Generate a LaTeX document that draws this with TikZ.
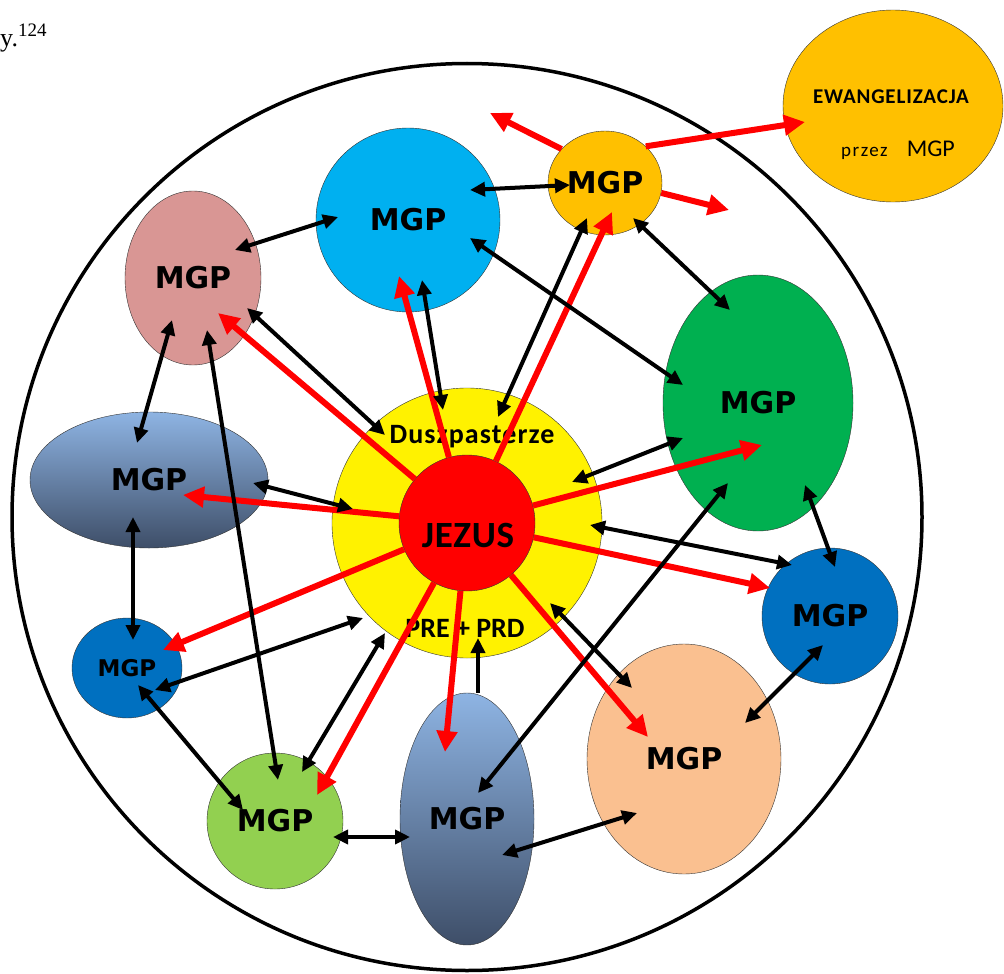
\documentclass[tikz,border=0pt]{standalone}
\usepackage{fontspec}
\setmainfont{Carlito}
\newfontfamily\mgpfont{DejaVu Sans}
\newfontfamily\pagefont{Liberation Serif}
\usetikzlibrary{shapes.geometric,arrows.meta}
\definecolor{mgporange}{HTML}{FFC000}
\definecolor{mgpsky}{HTML}{00B0F0}
\definecolor{mgppink}{HTML}{D99694}
\definecolor{mgpnavy}{HTML}{0070C0}
\definecolor{mgplime}{HTML}{92D050}
\definecolor{mgppeach}{HTML}{FAC090}
\definecolor{mgpgreen}{HTML}{00B050}
\definecolor{mgptop}{HTML}{8EB4E3}
\definecolor{mgpbottom}{HTML}{3E4E68}
\begin{document}
\begin{tikzpicture}[x=1pt,y=-1pt,
  mgp/.style={ellipse, draw=black!80, inner sep=0pt, font=\mgpfont\bfseries\fontsize{30}{30}\selectfont},
  shaded mgp/.style={mgp, top color=mgptop, bottom color=mgpbottom},
  link/.style={line width=4pt, {Triangle[length=15pt,width=14pt]}-{Triangle[length=15pt,width=14pt]}},
  uplink/.style={line width=4pt, -{Triangle[length=15pt,width=14pt]}},
  ray/.style={red, line width=6pt, -{Triangle[length=21pt,width=20pt]}}]
\useasboundingbox (0,0) rectangle (1004,974);
\node[font=\pagefont\fontsize{26}{30}\selectfont, anchor=base west, inner sep=0pt] (page) at (0,47) {y.\raisebox{10pt}{\fontsize{19}{19}\selectfont 124}};
\node[ellipse, draw, line width=3.5pt, minimum width=910pt, minimum height=907pt, inner sep=0pt] (world) at (467,517) {};
\node[ellipse, draw=black!80, fill=mgporange, minimum width=220pt, minimum height=192pt, inner sep=0pt] (ewang) at (893,106) {};
\node[font=\bfseries\fontsize{21}{21}\selectfont\addfontfeature{LetterSpace=4}] (ewtitle) at (891,97) {EWANGELIZACJA};
\node (ewsub) at (898,150) {\fontsize{19}{19}\selectfont\addfontfeature{LetterSpace=8}przez\quad\fontsize{24}{24}\selectfont\addfontfeature{LetterSpace=0}MGP};
\node[mgp, fill=mgporange, minimum width=114pt, minimum height=104pt] (orange) at (605,183) {MGP};
\node[mgp, fill=mgpsky, minimum width=184pt, minimum height=184pt] (blue) at (408,220) {MGP};
\node[mgp, fill=mgppink, minimum width=136pt, minimum height=174pt] (pink) at (193,278) {MGP};
\node[shaded mgp, minimum width=238pt, minimum height=136pt] (gleft) at (149,480) {MGP};
\node[mgp, fill=mgpnavy, minimum width=110pt, minimum height=100pt, font=\mgpfont\bfseries\fontsize{23}{23}\selectfont] (dbleft) at (127,668) {MGP};
\node[mgp, fill=mgplime, minimum width=136pt, minimum height=136pt] (lgreen) at (275,821) {MGP};
\node[shaded mgp, minimum width=134pt, minimum height=252pt] (gbot) at (467,819) {MGP};
\node[mgp, fill=mgppeach, minimum width=194pt, minimum height=230pt] (peach) at (684,759) {MGP};
\node[mgp, fill=mgpnavy, minimum width=136pt, minimum height=136pt] (dbright) at (830,616) {MGP};
\node[mgp, fill=mgpgreen, minimum width=190pt, minimum height=256pt] (green) at (758,403) {MGP};
\node[circle, draw=black!80, fill=yellow, minimum size=270pt, inner sep=0pt] (yellow) at (467,523) {};
\node[circle, draw=black!80, fill=red, minimum size=136pt, inner sep=0pt] (jezus) at (467,523) {};
\node[font=\bfseries\fontsize{37}{37}\selectfont\addfontfeature{LetterSpace=2}] (jezustext) at (468,535) {JEZUS};
\node[font=\bfseries\fontsize{28}{28}\selectfont\addfontfeature{LetterSpace=4}] (duszp) at (472,437) {Duszpasterze};
\node[font=\bfseries\fontsize{28}{28}\selectfont] (prd) at (465,628) {PRE + PRD};
\coordinate (spread1) at (490,113);
\coordinate (spread2) at (729,210);
\draw[ray] (jezus) -- ([shift={(25,35)}]pink.center);
\draw[ray] (jezus) -- ([shift={(-9,56)}]blue.center);
\draw[ray] (jezus) -- ([shift={(7,29)}]orange.center);
\draw[ray] (jezus) -- ([shift={(4,42)}]green.center);
\draw[ray] (jezus) -- ([shift={(-60,-28)}]dbright.center);
\draw[ray] (jezus) -- ([shift={(-36,-22)}]peach.center);
\draw[ray] (jezus) -- ([shift={(-22,-67)}]gbot.center);
\draw[ray] (jezus) -- ([shift={(42,-26)}]lgreen.center);
\draw[ray] (jezus) -- ([shift={(36,-18)}]dbleft.center);
\draw[ray] (jezus) -- ([shift={(34,15)}]gleft.center);
\draw[ray] (orange.42) -- ([shift={(-88,16)}]ewang.center);
\draw[ray] (orange.142) -- (spread1);
\draw[ray] (orange.-10) -- (spread2);
\draw[link] ([shift={(42,-28)}]pink.center) -- ([shift={(-70,-3)}]blue.center);
\draw[link] ([shift={(62,-30)}]blue.center) -- ([shift={(-35,2)}]orange.center);
\draw[link] ([shift={(14,60)}]blue.center) -- ([shift={(-24,-113)}]yellow.center);
\draw[link] ([shift={(-18,35)}]orange.center) -- ([shift={(31,-106)}]yellow.center);
\draw[link] ([shift={(62,18)}]blue.center) -- ([shift={(-75,-18)}]green.center);
\draw[link] ([shift={(28,35)}]orange.center) -- ([shift={(-28,-93)}]green.center);
\draw[link] ([shift={(54,30)}]pink.center) -- ([shift={(-82,-88)}]yellow.center);
\draw[link] ([shift={(-21,42)}]pink.center) -- ([shift={(-12,-37)}]gleft.center);
\draw[link] ([shift={(14,52)}]pink.center) -- ([shift={(3,-41)}]lgreen.center);
\draw[link] ([shift={(104,3)}]gleft.center) -- ([shift={(-114,-14)}]yellow.center);
\draw[link] ([shift={(-16,37)}]gleft.center) -- ([shift={(6,-28)}]dbleft.center);
\draw[link] ([shift={(28,22)}]dbleft.center) -- ([shift={(-104,95)}]yellow.center);
\draw[link] ([shift={(11,17)}]dbleft.center) -- ([shift={(-32,-11)}]lgreen.center);
\draw[link] ([shift={(27,-49)}]lgreen.center) -- ([shift={(-82,110)}]yellow.center);
\draw[link] ([shift={(58,16)}]lgreen.center) -- ([shift={(-57,18)}]gbot.center);
\draw[uplink] ([shift={(11,-126)}]gbot.center) -- ([shift={(11,115)}]yellow.center);
\draw[link] ([shift={(11,-26)}]gbot.center) -- ([shift={(-30,80)}]green.center);
\draw[link] ([shift={(83,80)}]yellow.center) -- ([shift={(-52,-71)}]peach.center);
\draw[link] ([shift={(105,-41)}]yellow.center) -- ([shift={(-75,35)}]green.center);
\draw[link] ([shift={(123,2)}]yellow.center) -- ([shift={(-38,-51)}]dbright.center);
\draw[link] ([shift={(47,82)}]green.center) -- ([shift={(5,-49)}]dbright.center);
\draw[link] ([shift={(-7,29)}]dbright.center) -- ([shift={(61,-36)}]peach.center);
\draw[link] ([shift={(35,36)}]gbot.center) -- ([shift={(-47,54)}]peach.center);
\end{tikzpicture}
\end{document}
